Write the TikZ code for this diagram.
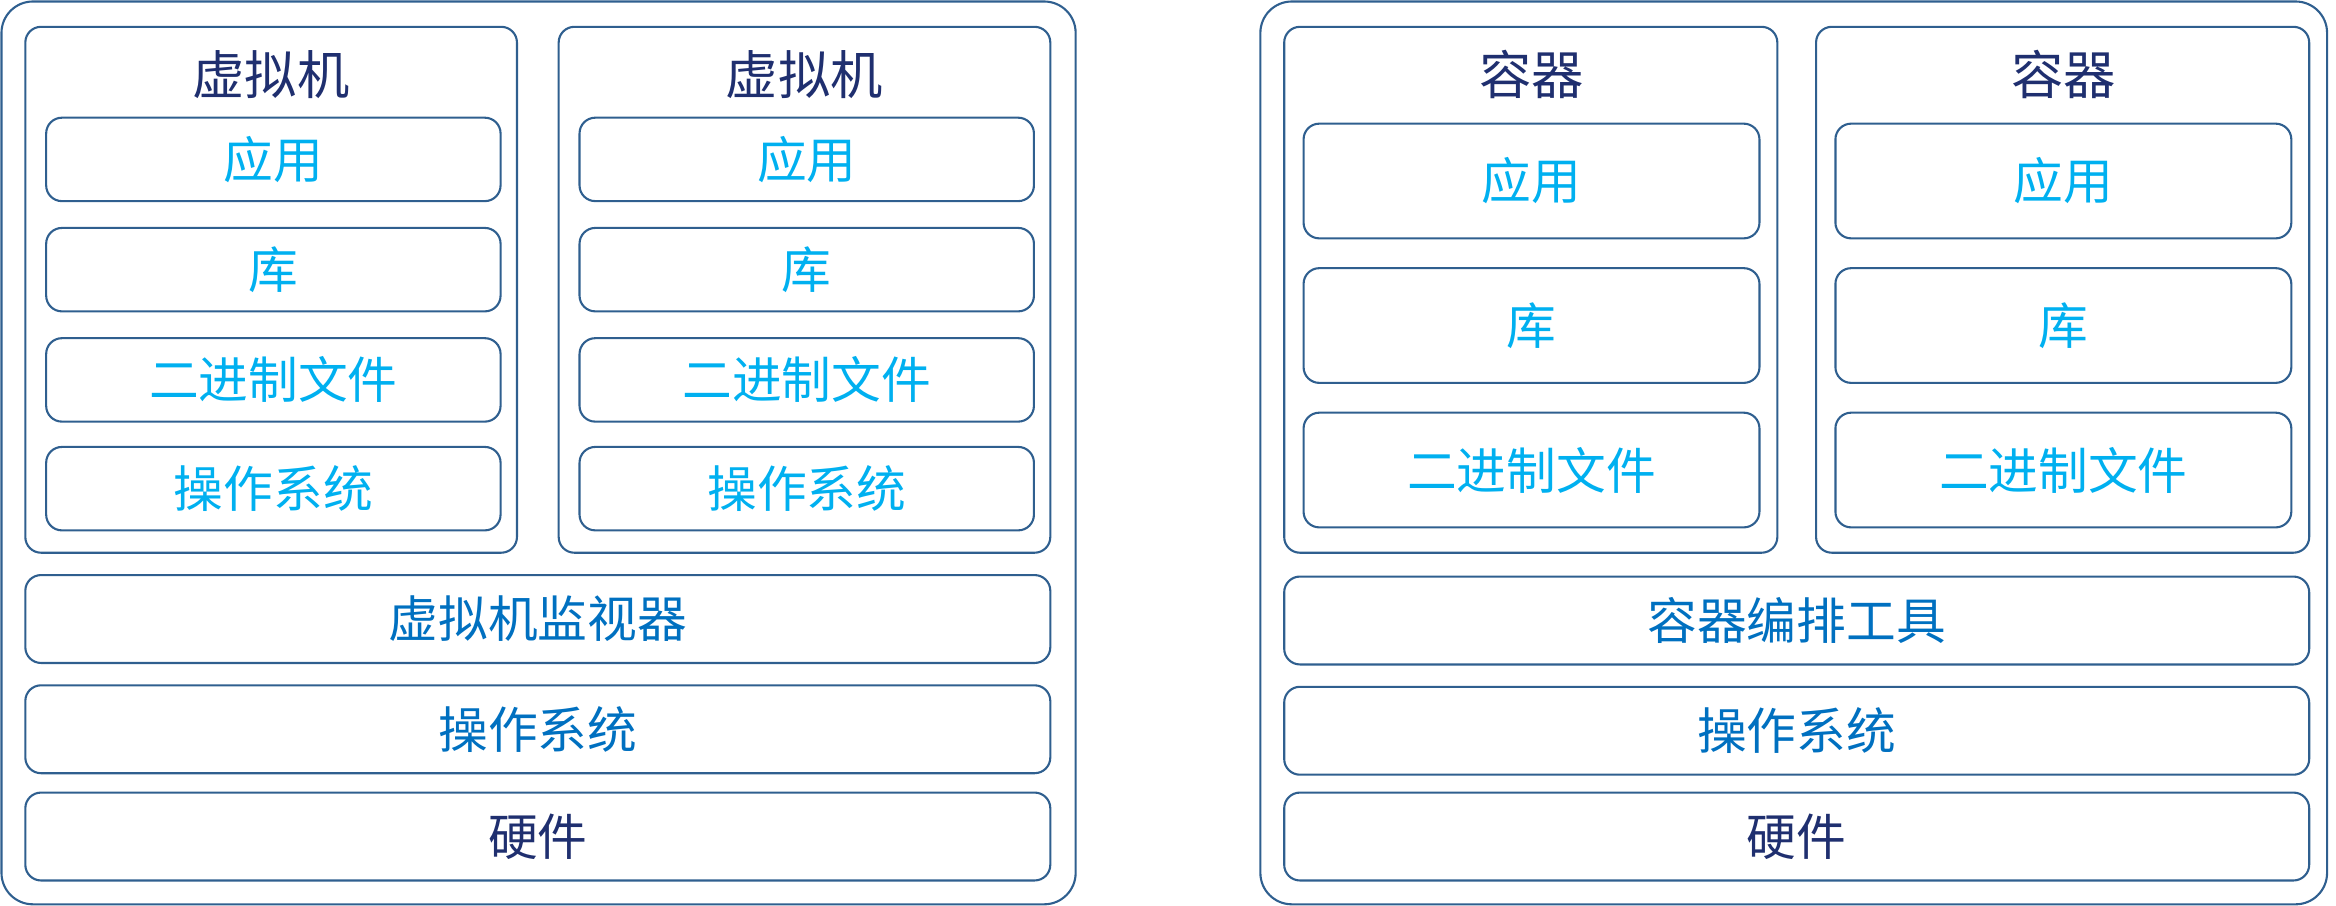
\documentclass[tikz,border=0pt]{standalone}
\usepackage{fontspec}
\setmainfont{Noto Sans CJK SC}
\usetikzlibrary{fit, positioning}
\definecolor{edgeblue}{HTML}{2F5F8F}
\definecolor{appcyan}{HTML}{00B0F0}
\definecolor{midblue}{HTML}{0070C0}
\definecolor{darkblue}{HTML}{1F2F6F}

\begin{document}
\begin{tikzpicture}[x=0.02cm, y=-0.02cm]
        \useasboundingbox (0,0) rectangle (1568,608);

        \tikzset{
            box/.style = {draw=edgeblue, line width=0.8pt, rounded corners=6pt, inner sep=0pt},
            outer/.style = {box, rounded corners=12pt},
            txt/.style = {font=\fontsize{19}{21}\selectfont},
        }

        % outer frames
        \node [outer, fit={(1,1) (722,607)}] (L) {};
        \node [outer, fit={(846,1) (1562,607)}] (R) {};

        % virtual machines
        \foreach \v/\dx in {1/0, 2/358}{
            \node [box, fit={(17+\dx,18) (347+\dx,371)}] (VM\v) {};
            \node [text=darkblue, font=\fontsize{20}{22}\selectfont] (VM\v t) at (182+\dx,50) {虚拟机};
            \foreach \l/\y/\t in {a/79/应用, b/153/库, c/227/二进制文件, d/300/操作系统}{
                \node [box, fit={(31+\dx,\y) (336+\dx,\y+56)}] (VM\v\l) {};
                \node [txt, text=appcyan] at (VM\v\l.center) {\t};
            }
        }
        \foreach \n/\y/\c/\t in {HV/386/midblue/虚拟机监视器, LOS/460/midblue/操作系统, LHW/532/darkblue/硬件}{
            \node [box, fit={(17,\y) (705,\y+59)}] (\n) {};
            \node [txt, text=\c] at (\n.center) {\t};
        }

        % containers
        \foreach \k/\dx in {1/0, 2/357}{
            \node [box, fit={(862+\dx,18) (1193+\dx,371)}] (C\k) {};
            \node [text=darkblue, font=\fontsize{20}{22}\selectfont] (C\k t) at (1028+\dx,50) {容器};
            \foreach \l/\y/\t in {a/83/应用, b/180/库, c/277/二进制文件}{
                \node [box, fit={(875+\dx,\y) (1181+\dx,\y+77)}] (C\k\l) {};
                \node [txt, text=appcyan] at (C\k\l.center) {\t};
            }
        }
        \foreach \n/\y/\c/\t in {ORC/387/midblue/容器编排工具, ROS/461/midblue/操作系统, RHW/532/darkblue/硬件}{
            \node [box, fit={(862,\y) (1550,\y+59)}] (\n) {};
            \node [txt, text=\c] at (\n.center) {\t};
        }
\end{tikzpicture}
\end{document}
